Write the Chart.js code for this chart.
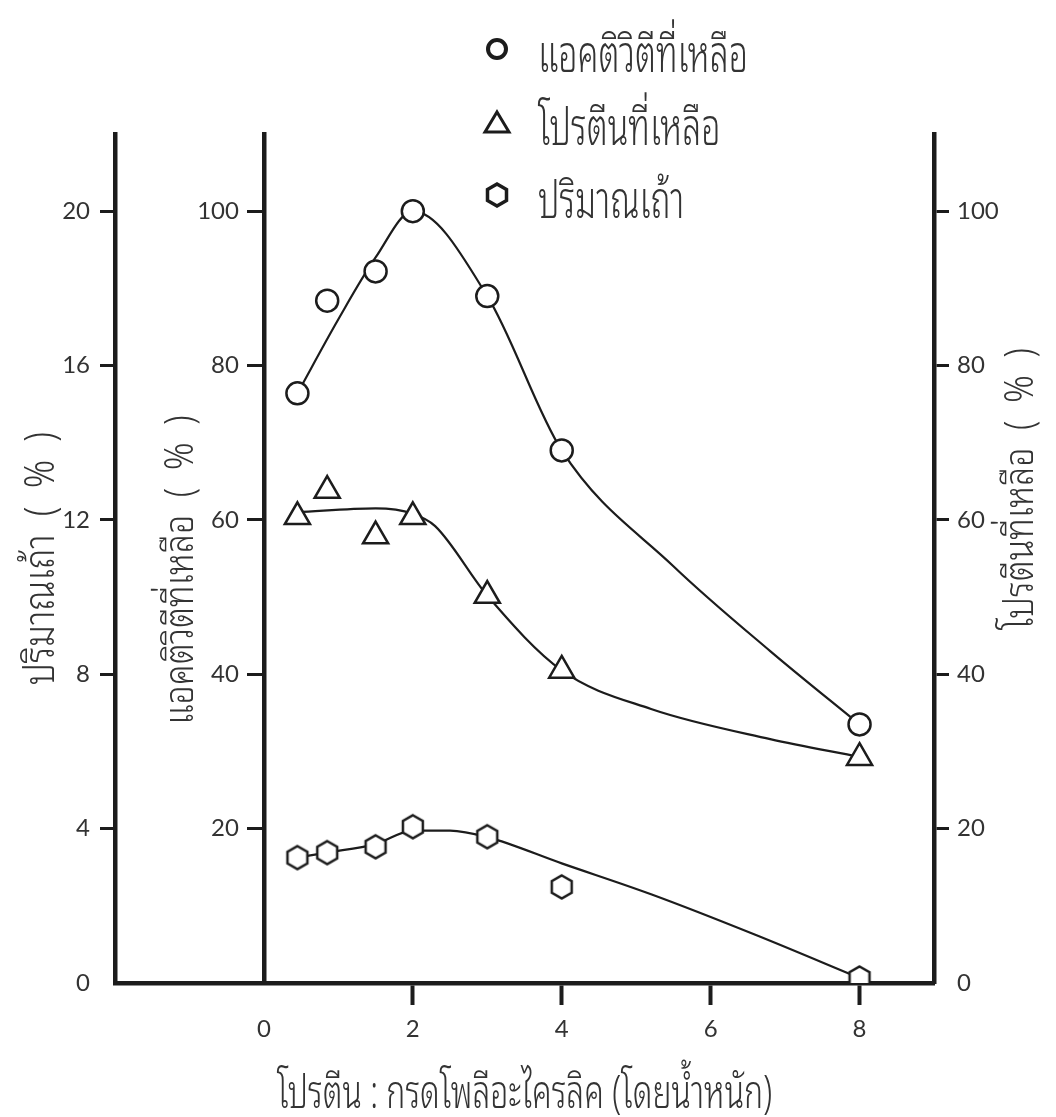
<!DOCTYPE html>
<html lang="th">
<head>
<meta charset="utf-8">
<title>แอคติวิตีที่เหลือ โปรตีนที่เหลือ และปริมาณเถ้า</title>
<script src="https://cdn.jsdelivr.net/npm/chart.js@4.4.1/dist/chart.umd.min.js"></script>
<style>
  html, body { margin: 0; padding: 0; background: #fff; }
  #wrap { position: relative; width: 1056px; height: 1117px; }
  #legend {
    position: absolute; left: 482px; top: 12px;
    font-family: 'Noto Sans Thai Looped', 'Noto Sans Thai', 'Loma', 'Garuda', 'DejaVu Sans', sans-serif;
    font-size: 34px; font-weight: 300; color: #333;
  }
  #legend .item { display: flex; align-items: center; height: 73px; }
  #legend svg { width: 30px; height: 30px; margin-right: 26px; }
  #legend span { display: inline-block; transform: scaleY(1.5); }
</style>
</head>
<body>
<div id="wrap">
  <canvas id="chart" width="1056" height="1117"></canvas>
  <div id="legend"></div>
</div>
<script>
// protein : polyacrylic acid ratio (by weight)
var ratios = [0.45, 0.85, 1.5, 2, 3, 4, 8];

// measured values
var activityLeft = [76.4, 88.4, 92.2, 100, 89, 69, 33.5];
var proteinLeft = [60.4, 63.8, 57.9, 60.4, 50.2, 40.5, 29.2];
var ashContent = [3.25, 3.38, 3.53, 4.05, 3.79, 2.49, 0.13];

// hand-drawn trend curves
var activityCurveX = [0.45, 1, 1.5, 2, 3, 4, 5.5, 6.8, 8];
var activityCurveY = [76.4, 86, 94, 100, 89, 69, 54, 43, 33.5];
var proteinCurveX = [0.45, 1.5, 2, 2.3, 3, 4, 5.2, 6.8, 8];
var proteinCurveY = [61, 61.5, 60.8, 59.2, 50.2, 40.5, 35.5, 31.6, 29.3];
var ashCurveX = [0.45, 0.85, 1.5, 2, 2.5, 3, 4, 5.2, 6.6, 8];
var ashCurveY = [3.25, 3.38, 3.6, 3.95, 3.95, 3.78, 3.1, 2.3, 1.25, 0.13];

var xTicks = [0, 2, 4, 6, 8];
var ashTicks = [0, 4, 8, 12, 16, 20];
var activityTicks = [20, 40, 60, 80, 100];
var proteinTicks = [0, 20, 40, 60, 80, 100];

var xTitle = 'โปรตีน : กรดโพลีอะไครลิค (โดยน้ำหนัก)';
var ashTitle = 'ปริมาณเถ้า  (  %  )';
var activityTitle = 'แอคติวิตีที่เหลือ  (  %  )';
var proteinTitle = 'โปรตีนที่เหลือ  (  %  )';

var ink = '#1c1c1c';
var textInk = '#333';
var thaiFamily = "'Noto Sans Thai Looped', 'Noto Sans Thai', 'Loma', 'Garuda', 'DejaVu Sans', sans-serif";
var numFont = { family: 'Lato', size: 24 };

function toPoints(xs, ys) {
  return xs.map(function (x, i) { return { x: x, y: ys[i] }; });
}

function fixedTicks(list) {
  return function (axis) {
    axis.ticks = list.map(function (v) { return { value: v }; });
  };
}

function hideZeroTick(c) {
  return c.tick && c.tick.value === 0 ? 'rgba(0,0,0,0)' : ink;
}

// pointy-top hexagon used as a point style
function hexagonMark(r, lw) {
  var size = Math.ceil(2 * r + 2 * lw);
  var c = document.createElement('canvas');
  c.width = size; c.height = size;
  var g = c.getContext('2d');
  g.beginPath();
  for (var k = 0; k < 6; k++) {
    var a = Math.PI / 3 * k - Math.PI / 2;
    var px = size / 2 + r * Math.cos(a), py = size / 2 + r * Math.sin(a);
    if (k === 0) g.moveTo(px, py); else g.lineTo(px, py);
  }
  g.closePath();
  g.fillStyle = '#fff';
  g.fill();
  g.lineWidth = lw;
  g.strokeStyle = ink;
  g.stroke();
  return c;
}

function curve(xs, ys, axisId) {
  return {
    type: 'line', data: toPoints(xs, ys), yAxisID: axisId,
    borderColor: ink, borderWidth: 2.2, pointRadius: 0, fill: false,
    cubicInterpolationMode: 'monotone', order: 2
  };
}

function marks(label, ys, axisId, style, radius) {
  return {
    label: label, data: toPoints(ratios, ys), yAxisID: axisId, showLine: false,
    pointStyle: style, pointRadius: radius, pointBorderWidth: 2.5,
    pointBorderColor: ink, pointBackgroundColor: '#fff', order: 0
  };
}

// Thai captions are set in a tall, narrow style
function drawCaption(c, text, x, y, size, stretch, upright) {
  c.save();
  c.font = '300 ' + size + 'px ' + thaiFamily;
  c.translate(x, y);
  if (!upright) c.rotate(-Math.PI / 2);
  c.scale(1, stretch);
  c.fillText(text, 0, 0);
  c.restore();
}

// axis captions, plus the tick labels of the inner axis that sits at x = 0
var captions = {
  id: 'captions',
  afterDraw: function (chart) {
    var c = chart.ctx, a = chart.chartArea, s = chart.scales;
    var x0 = s.x.getPixelForValue(0);
    c.save();
    c.fillStyle = textInk;
    c.textAlign = 'right';
    c.textBaseline = 'middle';
    c.font = numFont.size + 'px ' + numFont.family;
    s.yAct.ticks.forEach(function (t) {
      c.fillText(String(t.value), x0 - 25, s.yAct.getPixelForValue(t.value));
    });
    c.textAlign = 'center';
    drawCaption(c, ashTitle, s.yAsh.left + 42, (a.top + a.bottom) / 2, 35, 1.2);
    drawCaption(c, activityTitle, x0 - 82, s.yAct.getPixelForValue(53.5), 34, 1.2);
    drawCaption(c, proteinTitle, a.right + 88, s.yPro.getPixelForValue(64), 34, 1.2);
    drawCaption(c, xTitle, (a.left + a.right) / 2, chart.height - 22, 32, 1.42, true);
    c.restore();
  }
};

var ctx = document.getElementById('chart').getContext('2d');
var chart = new Chart(ctx, {
  type: 'scatter',
  data: {
    datasets: [
      marks('แอคติวิตีที่เหลือ', activityLeft, 'yAct', 'circle', 11),
      marks('โปรตีนที่เหลือ', proteinLeft, 'yPro', 'triangle', 14.5),
      marks('ปริมาณเถ้า', ashContent, 'yAsh', hexagonMark(11.5, 2.5), 12),
      curve(activityCurveX, activityCurveY, 'yAct'),
      curve(proteinCurveX, proteinCurveY, 'yPro'),
      curve(ashCurveX, ashCurveY, 'yAsh')
    ]
  },
  options: {
    responsive: false,
    animation: false,
    events: [],
    layout: { padding: { top: 134, left: 0, right: 0, bottom: 0 } },
    plugins: { legend: { display: false }, tooltip: { enabled: false } },
    scales: {
      x: {
        type: 'linear', position: 'bottom', min: -2, max: 9,
        afterBuildTicks: fixedTicks(xTicks),
        afterFit: function (axis) { axis.height = 134; },
        grid: { drawOnChartArea: false, drawTicks: true, tickLength: 22, tickWidth: 4, tickColor: hideZeroTick },
        border: { color: ink, width: 4.5 },
        ticks: { font: numFont, color: textInk, padding: 10, maxRotation: 0 }
      },
      yAsh: {
        type: 'linear', position: 'left', min: 0, max: 22,
        afterBuildTicks: fixedTicks(ashTicks),
        afterFit: function (axis) { axis.width = 115; },
        grid: { drawOnChartArea: false, tickLength: 15, tickWidth: 3, tickColor: hideZeroTick },
        border: { color: ink, width: 4.5 },
        ticks: { font: numFont, color: textInk, padding: 10 }
      },
      yAct: {
        type: 'linear', position: { x: 0 }, min: 0, max: 110,
        afterBuildTicks: fixedTicks(activityTicks),
        grid: { drawOnChartArea: false, tickLength: 15, tickWidth: 3, tickColor: ink },
        border: { color: ink, width: 4.5 },
        ticks: { display: false }
      },
      yPro: {
        type: 'linear', position: 'right', min: 0, max: 110,
        afterBuildTicks: fixedTicks(proteinTicks),
        afterFit: function (axis) { axis.width = 122; },
        grid: { drawOnChartArea: false, tickLength: 15, tickWidth: 3, tickColor: hideZeroTick },
        border: { color: ink, width: 4.5 },
        ticks: { font: numFont, color: textInk, padding: 8 }
      }
    }
  },
  plugins: [captions]
});

// legend built from the marker datasets
var shapes = {
  circle: '<circle cx="15" cy="15" r="9" fill="none" stroke="' + ink + '" stroke-width="4"/>',
  triangle: '<polygon points="15,5 27,25 3,25" fill="none" stroke="' + ink + '" stroke-width="3"/>',
  hexagon: '<polygon points="15,4 24.5,9.5 24.5,20.5 15,26 5.5,20.5 5.5,9.5" fill="none" stroke="' + ink + '" stroke-width="3.5"/>'
};
var legendBox = document.getElementById('legend');
chart.data.datasets.filter(function (d) { return d.label; }).forEach(function (d) {
  var key = typeof d.pointStyle === 'string' ? d.pointStyle : 'hexagon';
  var row = document.createElement('div');
  row.className = 'item';
  row.innerHTML = '<svg viewBox="0 0 30 30">' + shapes[key] + '</svg><span></span>';
  row.querySelector('span').textContent = d.label;
  legendBox.appendChild(row);
});
</script>
</body>
</html>
